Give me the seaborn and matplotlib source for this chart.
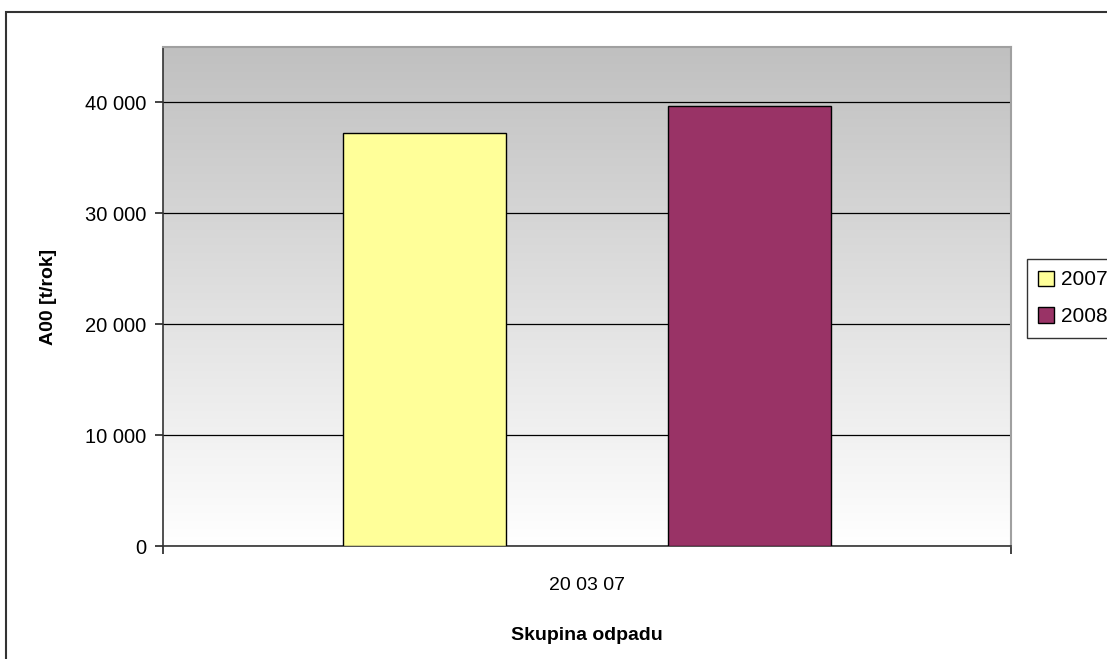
import numpy as np
import pandas as pd
import matplotlib.pyplot as plt
import seaborn as sns
from matplotlib.patches import Rectangle
from matplotlib.ticker import FuncFormatter
from matplotlib.colors import LinearSegmentedColormap

# data
categories = ["20 03 07"]
years = ["2007", "2008"]
values = [37200, 39700]
colors = ["#FFFF99", "#993366"]

df = pd.DataFrame({
    "skupina": categories * len(years),
    "rok": years,
    "hodnota": values,
})

sns.set_theme(style="white")
plt.rcParams['font.family'] = ['Liberation Sans', 'DejaVu Sans']
plt.rcParams['text.color'] = 'black'
plt.rcParams['axes.labelcolor'] = 'black'
plt.rcParams['xtick.color'] = 'black'
plt.rcParams['ytick.color'] = 'black'

fig = plt.figure(figsize=(11.07, 6.59), dpi=100)
ax = fig.add_axes([163 / 1107, 1 - 546 / 659, 848 / 1107, 499 / 659])

# gray-to-white gradient behind the bars, like the Excel plot area
grad = np.linspace(0, 1, 256).reshape(-1, 1)
ax.imshow(grad, cmap=LinearSegmentedColormap.from_list("bg", ["#FFFFFF", "#C0C0C0"]),
          aspect="auto", origin="lower", extent=[-0.5, 0.5, 0, 45000], zorder=0)

sns.barplot(data=df, x="skupina", y="hodnota", hue="rok", palette=colors,
            width=0.766, gap=0.5, edgecolor="black", linewidth=1.0,
            saturation=1, ax=ax, zorder=3)

ax.set_xlim(-0.5, 0.5)
ax.set_ylim(0, 45000)
ax.set_yticks([0, 10000, 20000, 30000, 40000])
ax.yaxis.set_major_formatter(FuncFormatter(lambda v, p: f"{int(v):,}".replace(",", " ")))
ax.grid(axis="y", color="#000000", linewidth=0.9, zorder=1)
ax.set_axisbelow(True)

# category boundary ticks on the x axis
ax.set_xticks([0])
ax.set_xticks([-0.5, 0.5], minor=True)
ax.tick_params(axis="x", which="major", length=0, pad=22, labelsize=14)
ax.tick_params(axis="x", which="minor", bottom=True, length=6, width=1.2,
               color="#222222", direction="out")
ax.tick_params(axis="y", length=6, width=1.2, color="#222222", direction="out",
               labelsize=14.5, left=True, pad=6)

for side in ["left", "bottom"]:
    ax.spines[side].set_color("#333333")
    ax.spines[side].set_linewidth(1.2)
for side in ["top", "right"]:
    ax.spines[side].set_color("#A0A0A0")
    ax.spines[side].set_linewidth(1.5)

ax.set_xlabel("Skupina odpadu", fontsize=14, fontweight="bold", labelpad=24)
ax.set_ylabel("A00 [t/rok]", fontsize=14, fontweight="bold", labelpad=20)

handles, labels = ax.get_legend_handles_labels()
ax.get_legend().remove()
leg = fig.legend(handles, labels, loc="upper left",
                 bbox_to_anchor=(1027 / 1107, 1 - 259 / 659),
                 frameon=True, fancybox=False, fontsize=15, handlelength=0.75,
                 handleheight=0.75, handletextpad=0.35, borderpad=0.55,
                 labelspacing=0.85, borderaxespad=0)
leg.get_frame().set_edgecolor("black")
leg.get_frame().set_linewidth(1.0)

# outer chart border
fig.patches.append(Rectangle((6 / 1107, -0.05), 1.1, 1 - 12 / 659 + 0.05,
                             transform=fig.transFigure, fill=False,
                             edgecolor="#333333", linewidth=1.5, zorder=10))

fig.savefig("out.png", dpi=100)
